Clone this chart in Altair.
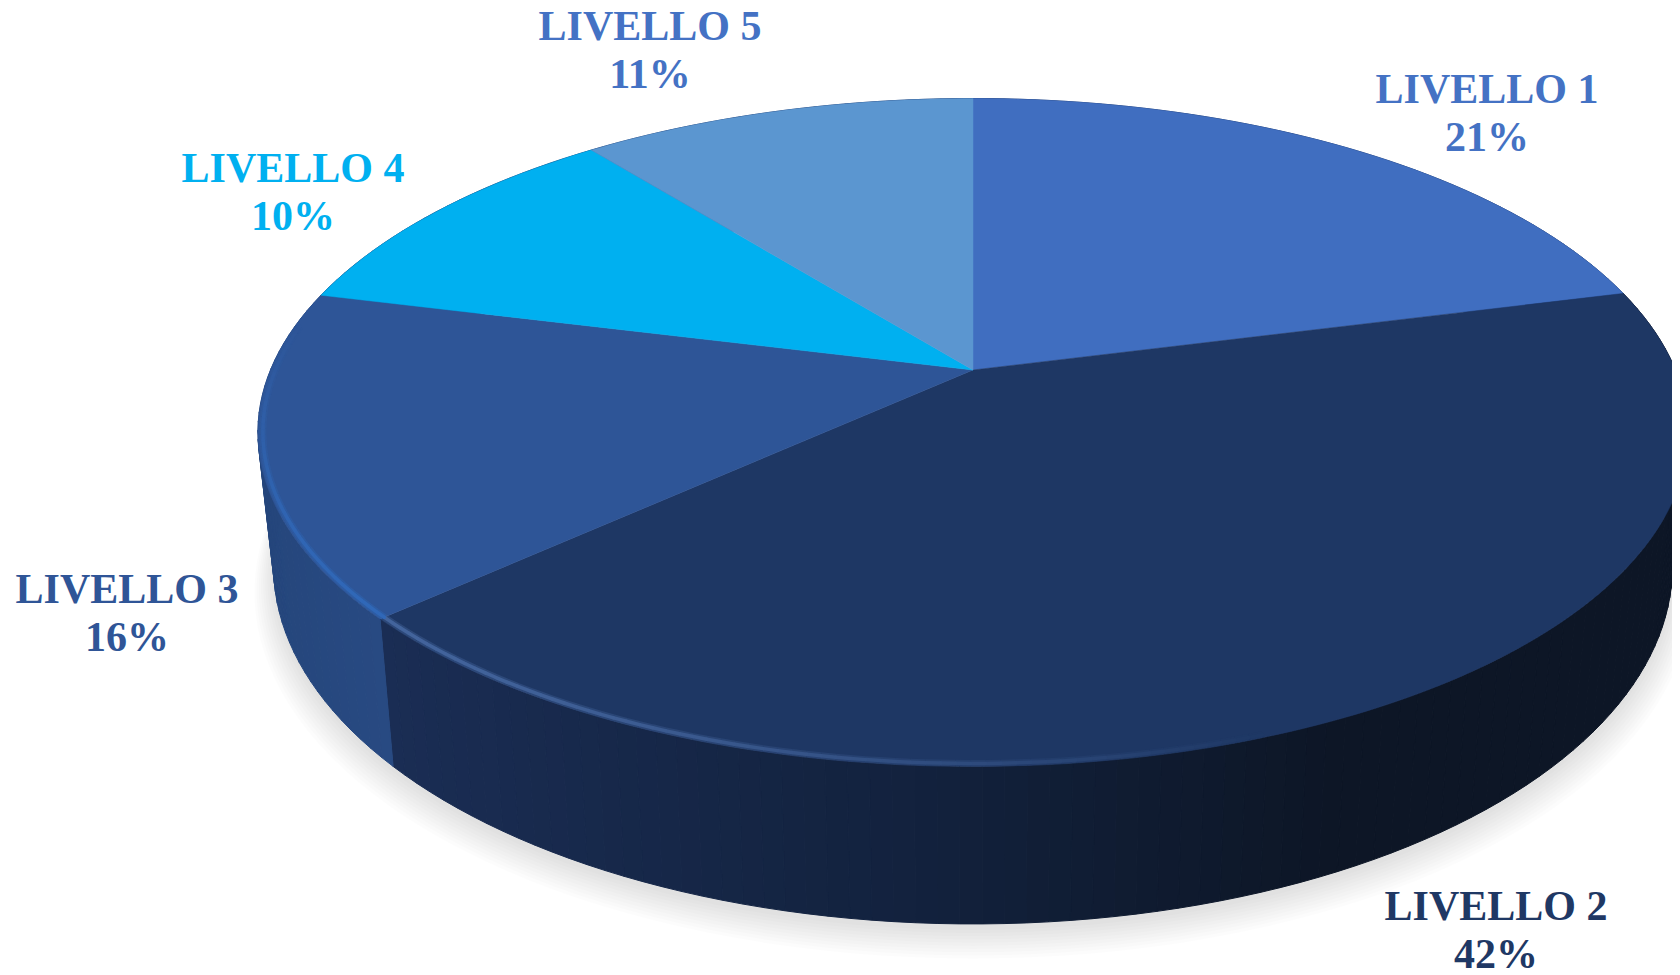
import math
import altair as alt

# --- data ---
categories = ["LIVELLO 1", "LIVELLO 2", "LIVELLO 3", "LIVELLO 4", "LIVELLO 5"]
shares = [21, 42.2, 15.7, 10.4, 10.7]

# --- styles ---
top_colors = ["#406ec0", "#1e3764", "#2e5597", "#00b0f0", "#5b96d0"]
text_colors = ["#4472c4", "#1f3864", "#2f5597", "#00b0f0", "#4472c4"]
label_x = [1487, 1496, 127, 293, 650]
label_y = [103, 920, 603, 182, 40]

W, H = 1664, 964
OFF = 8
CX, CY = 973.0, 370.0
A, B, K = 702.5, 322.2, 0.1868
LOW_CY, LOW_SX, LOW_SY = 500.0, 0.978, 1.07


def rim(t):
    """Point of the perspective disc at clockwise angle t from the top."""
    u, v = math.sin(t), math.cos(t)
    d = 1 + K * v
    return CX + A * u / d, CY - B * v / d


def low(t, grow=0.0, dy=0.0):
    x, y = rim(t)
    return (CX + (LOW_SX + grow) * (x - CX),
            LOW_CY + dy + (LOW_SY + grow) * (y - CY))


def feature(kind, coords, color):
    return {"type": "Feature",
            "geometry": {"type": kind, "coordinates": coords},
            "properties": {"c": color}}


def mix(a, b, f):
    f = max(0.0, min(1.0, f))
    pa = [int(a[i:i + 2], 16) for i in (1, 3, 5)]
    pb = [int(b[i:i + 2], 16) for i in (1, 3, 5)]
    return "#" + "".join(f"{round(x + (y - x) * f):02x}" for x, y in zip(pa, pb))


total = sum(shares)
edges = [0.0]
for s in shares:
    edges.append(edges[-1] + s / total * 2 * math.pi)


def arc(a, b, step=math.radians(1.0)):
    n = max(2, int((b - a) / step))
    return [a + (b - a) * i / n for i in range(n + 1)]


# slices of the top face
top_feats = []
for i, c in enumerate(top_colors):
    ring = [[CX, CY]] + [list(rim(t)) for t in arc(edges[i], edges[i + 1])] + [[CX, CY]]
    top_feats.append(feature("Polygon", [ring], c))


def wall_color(i, x):
    f = (x - 380) / (1500 - 380)
    if i == 1:
        if f < 0.5:
            return mix("#1a2d54", "#12213c", f / 0.5)
        return mix("#12213c", "#0d1626", (f - 0.5) / 0.35)
    if i == 2:
        return mix("#25467c", "#284a82", (x - 260) / 120)
    return mix("#1d3a70", "#2a4a80", 0.5)


# side wall, in narrow strips so it can darken from left to right
wall_feats = []
for i in range(len(shares)):
    ts = arc(edges[i], edges[i + 1], math.radians(1.5))
    for a, b in zip(ts[:-1], ts[1:]):
        pa, pb = rim(a), rim(b)
        col = wall_color(i, (pa[0] + pb[0]) / 2)
        ring = [list(pa), list(pb), list(low(b)), list(low(a)), list(pa)]
        wall_feats.append(feature("Polygon", [ring], col))

# soft shadow under the pie
shadow_layers = []
for n in range(10):
    g = 0.003 * n
    ring = [list(low(t, grow=g, dy=6 + 2.0 * n)) for t in arc(0, 2 * math.pi, math.radians(2))]
    shadow_layers.append(feature("Polygon", [ring], "#000000"))

# bevel highlight along the front rim
hi_feats = []
for i, base, light, t0, t1 in [
    (1, top_colors[1], "#43649c", edges[2], math.radians(160)),
    (2, top_colors[2], "#3068b8", edges[2], math.radians(278)),
]:
    ts = arc(min(t0, t1), max(t0, t1), math.radians(1.0))
    for a, b in zip(ts[:-1], ts[1:]):
        far = abs((a + b) / 2 - t0) / abs(t1 - t0)
        col = mix(light, base, far ** 1.6)
        ia = rim(a)
        ib = rim(b)
        shrink = 0.993
        line = [[CX + (ia[0] - CX) * shrink, CY + (ia[1] - CY) * shrink],
                [CX + (ib[0] - CX) * shrink, CY + (ib[1] - CY) * shrink]]
        hi_feats.append(feature("LineString", line, col))

proj = alt.Projection(type="identity", scale=1, translate=[-OFF, -OFF])
col_enc = alt.Color("properties.c:N", scale=None, legend=None)
stroke_enc = alt.Stroke("properties.c:N", scale=None, legend=None)

shadow = alt.Chart(alt.Data(values=shadow_layers)).mark_geoshape(
    fill="#000000", fillOpacity=0.013, strokeWidth=0
).project(**proj.to_dict())

walls = alt.Chart(alt.Data(values=wall_feats)).mark_geoshape(strokeWidth=1).encode(
    color=col_enc, stroke=stroke_enc
).project(**proj.to_dict())

tops = alt.Chart(alt.Data(values=top_feats)).mark_geoshape(strokeWidth=0.5).encode(
    color=col_enc, stroke=stroke_enc
).project(**proj.to_dict())

highlights_soft = alt.Chart(alt.Data(values=hi_feats)).mark_geoshape(
    filled=False, strokeWidth=7, strokeCap="butt", strokeOpacity=0.4
).encode(stroke=stroke_enc).project(**proj.to_dict())

highlights = alt.Chart(alt.Data(values=hi_feats)).mark_geoshape(
    filled=False, strokeWidth=3.5, strokeCap="round"
).encode(stroke=stroke_enc).project(**proj.to_dict())

label_rows = [
    {"text": f"{c}\n{round(s)}%", "x": x, "y": y, "c": col}
    for c, s, x, y, col in zip(categories, shares, label_x, label_y, text_colors)
]
labels = alt.Chart(alt.Data(values=label_rows)).mark_text(
    font="Liberation Serif", fontWeight="bold", fontSize=42, lineBreak="\n",
    lineHeight=48, align="center", baseline="alphabetic"
).encode(
    x=alt.X("x:Q", axis=None, scale=alt.Scale(domain=[OFF, W + OFF], range=[0, W])),
    y=alt.Y("y:Q", axis=None, scale=alt.Scale(domain=[OFF, H + OFF], range=[0, H])),
    text="text:N",
    color=alt.Color("c:N", scale=None, legend=None),
)

chart = alt.layer(shadow, walls, tops, highlights_soft, highlights, labels).properties(
    width=W, height=H, padding=0, autosize=alt.AutoSizeParams(type="none"),
    background="#ffffff",
).configure_view(stroke=None)

chart.save("out.html", embed_options={"renderer": "svg", "actions": False})
